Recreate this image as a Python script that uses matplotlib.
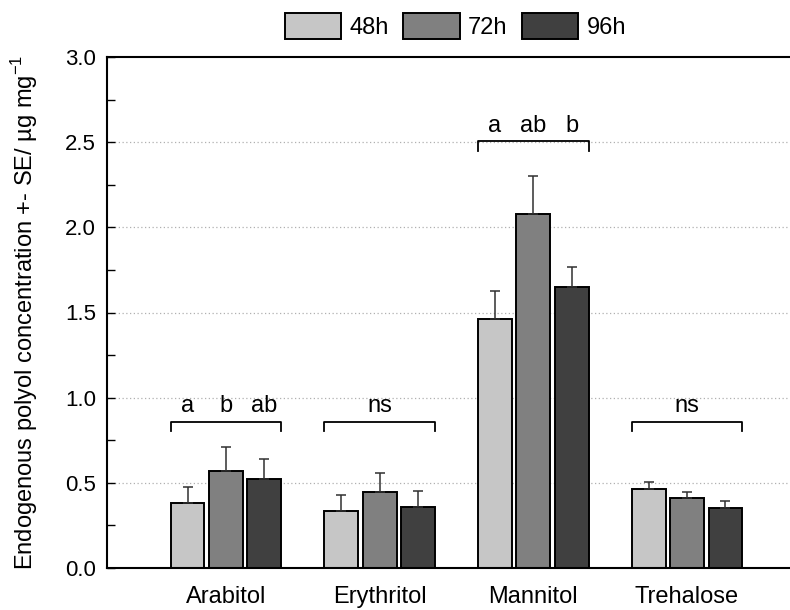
import numpy as np
import matplotlib
matplotlib.use("Agg")
import matplotlib.pyplot as plt
from matplotlib.ticker import MultipleLocator

plt.rcParams['font.family'] = ['Liberation Sans', 'DejaVu Sans']

categories = ["Arabitol", "Erythritol", "Mannitol", "Trehalose"]
series = ["48h", "72h", "96h"]
means = {
    "48h": [0.38, 0.335, 1.462, 0.465],
    "72h": [0.57, 0.447, 2.08, 0.41],
    "96h": [0.52, 0.36, 1.647, 0.35],
}
se = {
    "48h": [0.095, 0.095, 0.165, 0.04],
    "72h": [0.14, 0.11, 0.22, 0.035],
    "96h": [0.12, 0.09, 0.12, 0.045],
}
letters = [["a", "b", "ab"], ["ns"], ["a", "ab", "b"], ["ns"]]
bracket_y = [0.86, 0.86, 2.505, 0.86]

colors = ["#c6c6c6", "#808080", "#404040"]

fig = plt.figure(figsize=(7.9, 6.1), dpi=100)
ax = fig.add_axes([107/790, 42/610, 1 - 107/790, (568-57)/610])

x = np.arange(1, len(categories) + 1)
width = 0.22
offsets = [-0.25, 0, 0.25]

for s, c, off in zip(series, colors, offsets):
    ax.bar(x + off, means[s], width, color=c, edgecolor="black", linewidth=1.4,
           label=s, zorder=2)
    ax.errorbar(x + off, means[s], yerr=[np.zeros(len(x)), se[s]], fmt="none",
                ecolor="#303030", elinewidth=1.1, capsize=3.8, capthick=1.1, zorder=3)

# significance brackets
for i, (labs, by) in enumerate(zip(letters, bracket_y)):
    left = x[i] - 0.25 - width / 2
    right = x[i] + 0.25 + width / 2
    ax.plot([left, left, right, right], [by - 0.055, by, by, by - 0.055],
            color="black", lw=1.3, zorder=3)
    if len(labs) == 1:
        ax.text(x[i], by + 0.055, labs[0], ha="center", va="baseline", fontsize=17)
    else:
        for lab, off in zip(labs, offsets):
            ax.text(x[i] + off, by + 0.055, lab, ha="center", va="baseline", fontsize=17)

ax.set_xlim(0.226, 4.67)
ax.set_ylim(0, 3.0)
ax.yaxis.set_major_locator(MultipleLocator(0.5))
ax.yaxis.set_minor_locator(MultipleLocator(0.25))
ax.yaxis.set_major_formatter(matplotlib.ticker.FormatStrFormatter("%.1f"))
ax.tick_params(axis="y", which="major", direction="in", length=6, width=1, labelsize=16, pad=8)
ax.tick_params(axis="y", which="minor", direction="in", length=6, width=1)
ax.set_xticks(x)
ax.set_xticklabels(categories, fontsize=17)
ax.tick_params(axis="x", length=0, pad=13)

for yv in [0.5, 1.0, 1.5, 2.0, 2.5]:
    ax.axhline(yv, color="#b0b0b0", linestyle=(0, (1, 2)), lw=0.9, zorder=1)

for side in ["left", "bottom", "top"]:
    ax.spines[side].set_linewidth(1.5)
ax.spines["right"].set_visible(False)

ax.set_ylabel("Endogenous polyol concentration +- SE/ µg mg$^{\\mathregular{-1}}$",
              fontsize=17, labelpad=18)

ax.legend(loc="lower center", bbox_to_anchor=(0.51, 1.036), ncol=3, frameon=False,
          fontsize=17, handlelength=2.4, handleheight=1.3, columnspacing=0.6,
          handletextpad=0.35, borderaxespad=0, borderpad=0)

fig.savefig("out.png", dpi=100)
